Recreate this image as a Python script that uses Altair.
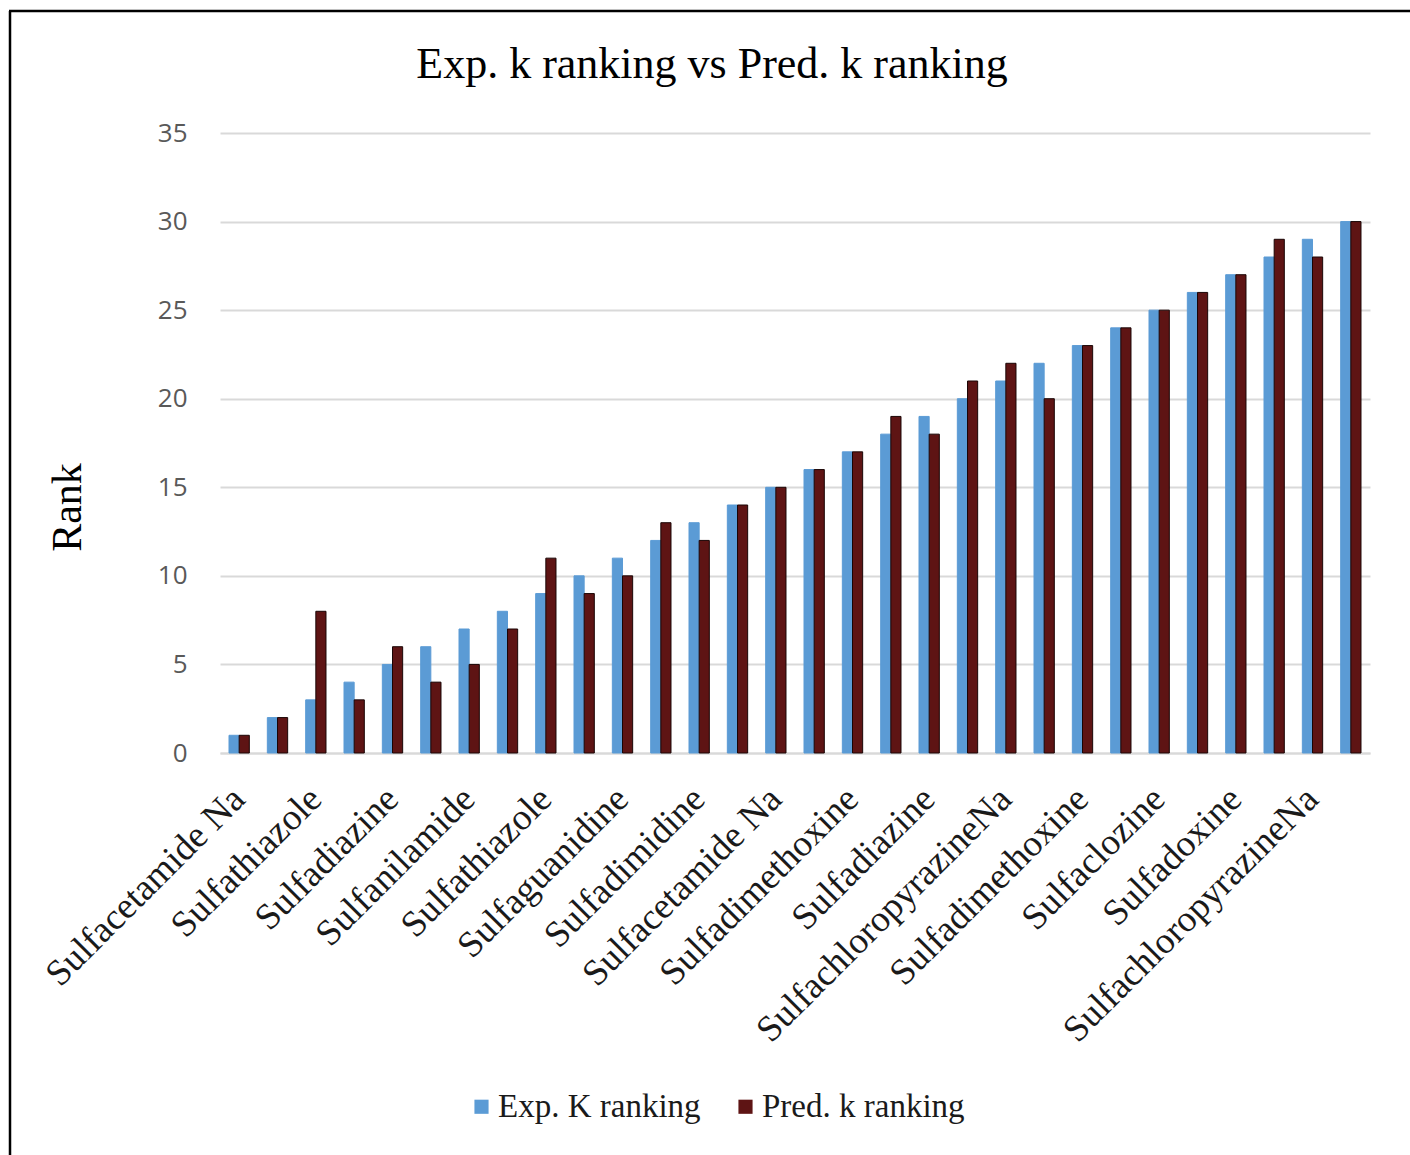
import json
import altair as alt
import pandas as pd

# ---- data ----
categories = [
    "Sulfacetamide Na", "", "Sulfathiazole", "", "Sulfadiazine", "",
    "Sulfanilamide", "", "Sulfathiazole", "", "Sulfaguanidine", "",
    "Sulfadimidine", "", "Sulfacetamide Na", "", "Sulfadimethoxine", "",
    "Sulfadiazine", "", "SulfachloropyrazineNa", "", "Sulfadimethoxine", "",
    "Sulfaclozine", "", "Sulfadoxine", "", "SulfachloropyrazineNa", "",
]
exp_rank = [1, 2, 3, 4, 5, 6, 7, 8, 9, 10, 11, 12, 13, 14, 15,
            16, 17, 18, 19, 20, 21, 22, 23, 24, 25, 26, 27, 28, 29, 30]
pred_rank = [1, 2, 8, 3, 6, 4, 5, 7, 11, 9, 10, 13, 12, 14, 15,
             16, 17, 19, 18, 21, 22, 20, 23, 24, 25, 26, 27, 29, 28, 30]
series_names = ["Exp. K ranking", "Pred. k ranking"]
series_colors = ["#5B9BD5", "#5E1414"]
series_strokes = ["#5B9BD5", "#1A0505"]
y_ticks = [0, 5, 10, 15, 20, 25, 30, 35]

rows = []
for i in range(len(exp_rank)):
    rows.append({"idx": i + 1, "series": series_names[0], "rank": exp_rank[i]})
    rows.append({"idx": i + 1, "series": series_names[1], "rank": pred_rank[i]})
df = pd.DataFrame(rows)

SERIF = "Liberation Serif"
label_expr = json.dumps(categories) + "[datum.value - 1]"

bars = alt.Chart(df).mark_bar(strokeWidth=1).encode(
    x=alt.X(
        "idx:O",
        scale=alt.Scale(paddingInner=0.47, paddingOuter=0.235),
        axis=alt.Axis(
            title=None,
            labelExpr=label_expr,
            labelAngle=-45,
            labelAlign="right",
            labelBaseline="middle",
            labelFont=SERIF,
            labelFontSize=37,
            labelColor="#1a1a1a",
            labelPadding=40,
            labelOverlap=False,
            labelLimit=600,
            ticks=False,
            domain=True,
            domainColor="#D9D9D9",
            domainWidth=2,
            grid=False,
        ),
    ),
    xOffset=alt.XOffset("series:N", sort=series_names),
    y=alt.Y(
        "rank:Q",
        scale=alt.Scale(domain=[0, 35], nice=False),
        axis=alt.Axis(
            title="Rank",
            values=y_ticks,
            labelFont="Open Sans",
            labelFontSize=26,
            labelColor="#595959",
            labelPadding=33,
            ticks=False,
            domain=False,
            gridColor="#D9D9D9",
            gridWidth=2,
            titleFont=SERIF,
            titleFontSize=42,
            titleFontWeight="normal",
            titleColor="#000000",
            titleAngle=-90,
            titleBaseline="alphabetic",
            titleAlign="center",
            titleX=-140,
            titleY=374,
        ),
    ),
    color=alt.Color(
        "series:N",
        sort=series_names,
        scale=alt.Scale(domain=series_names, range=series_colors),
        legend=alt.Legend(
            title=None,
            orient="none",
            direction="horizontal",
            legendX=245,
            legendY=957,
            symbolType="square",
            symbolSize=200,
            symbolStrokeWidth=0,
            labelFont=SERIF,
            labelFontSize=33,
            labelColor="#1a1a1a",
            labelOffset=0,
            columnPadding=28,
            labelLimit=400,
        ),
    ),
    stroke=alt.Stroke(
        "series:N",
        sort=series_names,
        scale=alt.Scale(domain=series_names, range=series_strokes),
        legend=None,
    ),
)

frame_data = alt.Data(values=[{"k": 1}])
left_border = alt.Chart(frame_data).mark_rule(color="#000000", strokeWidth=2.5).encode(
    x=alt.value(-210), y=alt.value(-122), y2=alt.value(1030)
)
top_border = alt.Chart(frame_data).mark_rule(color="#000000", strokeWidth=2.5).encode(
    x=alt.value(-211), x2=alt.value(1200), y=alt.value(-122)
)

chart = alt.layer(bars, left_border, top_border).properties(
    width=1150,
    height=620,
    title=alt.TitleParams(
        text="Exp. k ranking vs Pred. k ranking",
        font=SERIF,
        fontSize=44,
        fontWeight="normal",
        color="#000000",
        anchor="middle",
        baseline="alphabetic",
        dx=-83,
        offset=0,
        dy=112,
    ),
    autosize=alt.AutoSizeParams(type="none"),
    padding={"left": 220, "top": 133, "right": 40, "bottom": 402},
    background="#FFFFFF",
).configure_view(stroke=None)

chart.save("out.html", embed_options={"renderer": "svg", "actions": False})
